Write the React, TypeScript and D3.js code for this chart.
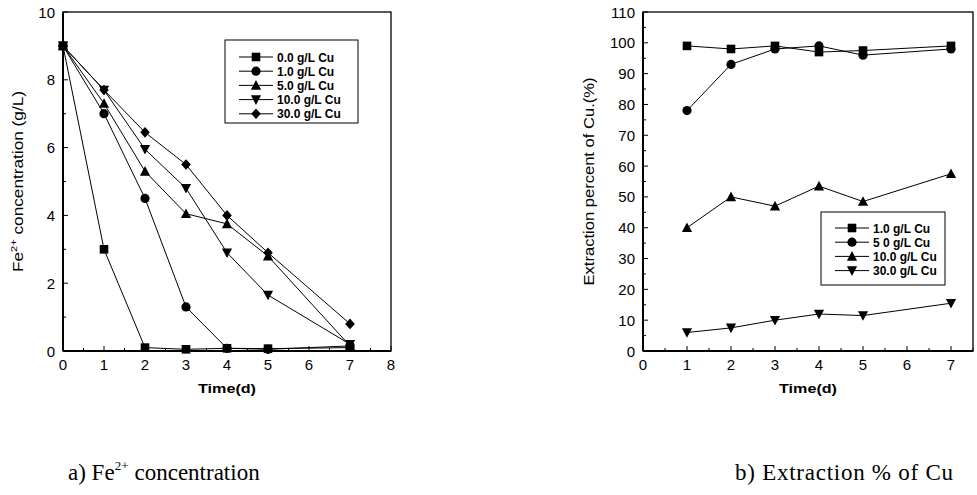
import React from "react";
import * as d3 from "d3";

const days = [0, 1, 2, 3, 4, 5, 7];
const feLabels = ["0.0 g/L Cu", "1.0 g/L Cu", "5.0 g/L Cu", "10.0 g/L Cu", "30.0 g/L Cu"];
const fe00 = [9, 3.0, 0.1, 0.05, 0.08, 0.07, 0.1];
const fe10 = [9, 7.0, 4.5, 1.3, 0.08, 0.05, 0.15];
const fe50 = [9, 7.3, 5.3, 4.05, 3.75, 2.8, 0.15];
const fe100 = [9, 7.7, 5.95, 4.8, 2.9, 1.65, 0.2];
const fe300 = [9, 7.7, 6.45, 5.5, 4.0, 2.9, 0.8];
const feMarkers = ["square", "circle", "triangle", "down", "diamond"];

const exDays = [1, 2, 3, 4, 5, 7];
const exLabels = ["1.0 g/L Cu", "5 0 g/L Cu", "10.0 g/L Cu", "30.0 g/L Cu"];
const ex10 = [99, 98, 99, 97, 97.5, 99];
const ex50 = [78, 93, 98, 99, 96, 98];
const ex100 = [40, 50, 47, 53.5, 48.5, 57.5];
const ex300 = [6, 7.5, 10, 12, 11.5, 15.5];
const exMarkers = ["square", "circle", "triangle", "down"];

const leftXTicks = [0, 1, 2, 3, 4, 5, 6, 7, 8];
const leftYTicks = [0, 2, 4, 6, 8, 10];
const rightXTicks = [0, 1, 2, 3, 4, 5, 6, 7];
const rightYTicks = [0, 10, 20, 30, 40, 50, 60, 70, 80, 90, 100, 110];

const font = "Liberation Sans, Arial, sans-serif";
const serif = "Liberation Serif, Times New Roman, serif";

function Marker({ type, x, y }: { type: string; x: number; y: number }) {
  const s = 4.3;
  if (type === "square") return <rect x={x - s} y={y - s} width={2 * s} height={2 * s} fill="#000" />;
  if (type === "circle") return <circle cx={x} cy={y} r={s + 0.3} fill="#000" />;
  if (type === "triangle")
    return <path d={`M${x},${y - s - 1}L${x + s + 0.8},${y + s}L${x - s - 0.8},${y + s}Z`} fill="#000" />;
  if (type === "down")
    return <path d={`M${x},${y + s + 1}L${x + s + 0.8},${y - s}L${x - s - 0.8},${y - s}Z`} fill="#000" />;
  return <path d={`M${x},${y - s - 1}L${x + s + 0.5},${y}L${x},${y + s + 1}L${x - s - 0.5},${y}Z`} fill="#000" />;
}

function Panel(props: {
  x0: number; x1: number; y0: number; y1: number;
  xDomain: [number, number]; yDomain: [number, number];
  xTicks: number[]; yTicks: number[]; xMinor: number; yMinor: number;
  xs: number[]; series: number[][]; markers: string[]; labels: string[];
  legend: { x: number; y: number; w: number; h: number; firstY: number; dy: number };
  ylabel: React.ReactNode; ylabelX: number; ylabelLen: number; xlabelY: number;
}) {
  const { x0, x1, y0, y1 } = props;
  const xs = d3.scaleLinear().domain(props.xDomain).range([x0, x1]);
  const ys = d3.scaleLinear().domain(props.yDomain).range([y1, y0]);
  const line = d3.line<[number, number]>().x((d) => xs(d[0])).y((d) => ys(d[1]));
  const xMinorTicks = d3.range(props.xDomain[0], props.xDomain[1] + 1e-9, props.xMinor);
  const yMinorTicks = d3.range(props.yDomain[0], props.yDomain[1] + 1e-9, props.yMinor);
  const L = props.legend;
  return (
    <g>
      {props.series.map((s, i) => (
        <path key={"l" + i} d={line(props.xs.map((x, j) => [x, s[j]] as [number, number])) || ""}
          fill="none" stroke="#000" strokeWidth={1} />
      ))}
      {props.series.map((s, i) =>
        props.xs.map((x, j) => <Marker key={"m" + i + "-" + j} type={props.markers[i]} x={xs(x)} y={ys(s[j])} />)
      )}
      <rect x={x0} y={y0} width={x1 - x0} height={y1 - y0} fill="none" stroke="#000" strokeWidth={1.3} />
      <line x1={x0} x2={x0} y1={y0} y2={y1} stroke="#000" strokeWidth={2} />
      <line x1={x0} x2={x1} y1={y1} y2={y1} stroke="#000" strokeWidth={2} />
      {xMinorTicks.map((t, i) => {
        const major = props.xTicks.indexOf(t) >= 0;
        return <line key={"xt" + i} x1={xs(t)} x2={xs(t)} y1={y1} y2={y1 - (major ? 5 : 3)} stroke="#000" strokeWidth={1} />;
      })}
      {yMinorTicks.map((t, i) => {
        const major = props.yTicks.indexOf(t) >= 0;
        return <line key={"yt" + i} x1={x0} x2={x0 + (major ? 5 : 3)} y1={ys(t)} y2={ys(t)} stroke="#000" strokeWidth={1} />;
      })}
      {props.xTicks.map((t) => (
        <text key={"xl" + t} x={xs(t)} y={y1 + 19} textAnchor="middle" fontFamily={font} fontSize={15} fill="#000">{t}</text>
      ))}
      {props.yTicks.map((t) => (
        <text key={"yl" + t} x={x0 - 8} y={ys(t) + 5.5} textAnchor="end" fontFamily={font} fontSize={15} fill="#000">{t}</text>
      ))}
      <text x={(x0 + x1) / 2} y={props.xlabelY} textAnchor="middle" fontFamily={font} fontSize={13} fontWeight="bold"
        fill="#000" textLength={58} lengthAdjust="spacingAndGlyphs">Time(d)</text>
      <text transform={`translate(${props.ylabelX},${(y0 + y1) / 2}) rotate(-90)`} textAnchor="middle" fontFamily={font}
        fontSize={14} fill="#000" textLength={props.ylabelLen} lengthAdjust="spacingAndGlyphs">{props.ylabel}</text>
      <rect x={L.x} y={L.y} width={L.w} height={L.h} fill="#fff" stroke="#000" strokeWidth={1} />
      {props.labels.map((lab, i) => {
        const yy = L.firstY + i * L.dy;
        return (
          <g key={"lg" + i}>
            <line x1={L.x + 14} x2={L.x + 48} y1={yy} y2={yy} stroke="#000" strokeWidth={1} />
            <Marker type={props.markers[i]} x={L.x + 31} y={yy} />
            <text x={L.x + 52} y={yy + 4.5} fontFamily={font} fontSize={12} fontWeight="bold" fill="#000">{lab}</text>
          </g>
        );
      })}
    </g>
  );
}

export default function App() {
  return (
    <svg width={977} height={495} style={{ position: "absolute", left: 0, top: 0, background: "#fff" }}>
      <rect width={977} height={495} fill="#fff" />
      <Panel x0={63} x1={391} y0={12} y1={351} xDomain={[0, 8]} yDomain={[0, 10]}
        xTicks={leftXTicks} yTicks={leftYTicks} xMinor={0.5} yMinor={1}
        xs={days} series={[fe00, fe10, fe50, fe100, fe300]} markers={feMarkers} labels={feLabels}
        legend={{ x: 225, y: 40, w: 133, h: 83, firstY: 57, dy: 14.2 }}
        ylabel={<tspan>Fe<tspan dy={-6} fontSize={9}>2+</tspan><tspan dy={6}> concentration (g/L)</tspan></tspan>}
        ylabelX={23} ylabelLen={181} xlabelY={393} />
      <Panel x0={643} x1={973} y0={12} y1={351} xDomain={[0, 7.5]} yDomain={[0, 110]}
        xTicks={rightXTicks} yTicks={rightYTicks} xMinor={0.5} yMinor={5}
        xs={exDays} series={[ex10, ex50, ex100, ex300]} markers={exMarkers} labels={exLabels}
        legend={{ x: 821, y: 212, w: 124, h: 73, firstY: 228, dy: 14.2 }}
        ylabel="Extraction percent of Cu.(%)" ylabelX={594} ylabelLen={208} xlabelY={393} />
      <text x={68} y={480} fontFamily={serif} fontSize={23} fill="#000">
        a) Fe<tspan dy={-10} fontSize={13}>2+</tspan><tspan dy={10} dx={6}>concentration</tspan>
      </text>
      <text x={735} y={480} fontFamily={serif} fontSize={23} fill="#000" textLength={218} lengthAdjust="spacing">b) Extraction % of Cu</text>
    </svg>
  );
}
